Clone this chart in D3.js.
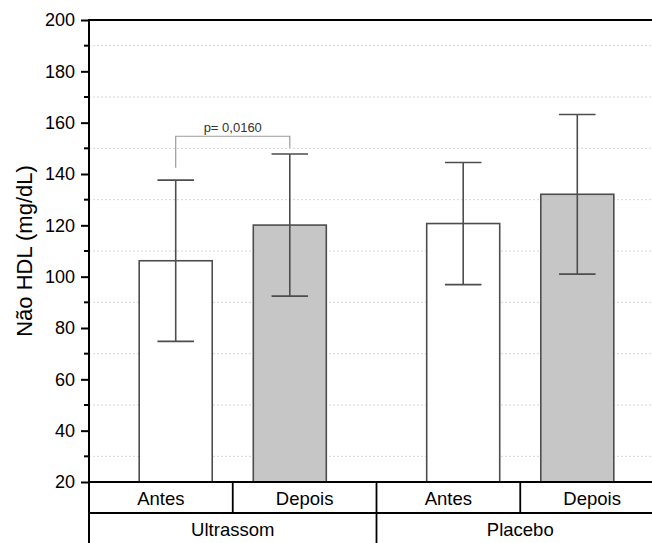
<!DOCTYPE html>
<html>
<head>
<meta charset="utf-8">
<script src="https://cdn.jsdelivr.net/npm/d3@7/dist/d3.min.js"></script>
<style>
  body { margin: 0; background: #fff; }
  text { font-family: "Liberation Sans", Arial, sans-serif; }
</style>
</head>
<body>
<svg id="chart" width="652" height="543"></svg>
<script>
// data
const groups = ["Ultrassom", "Placebo"];
const moments = ["Antes", "Depois"];
const means = [106.2, 120.1, 120.7, 132.1];   // Ultrassom Antes, Ultrassom Depois, Placebo Antes, Placebo Depois
const sds   = [31.4, 27.7, 23.8, 31.1];
const yTicks = [20, 40, 60, 80, 100, 120, 140, 160, 180, 200];
const yMinor = [30, 50, 70, 90, 110, 130, 150, 170, 190];
const bracketLabel = "p= 0,0160";
const bracketTop = 154.7;
const bracketLegs = [142.4, 150.2];

let bars = means.map(function(m, i) {
  return { group: groups[Math.floor(i / 2)], moment: moments[i % 2], mean: m, sd: sds[i] };
});

let svg = d3.select("#chart");
let margin = { top: 20, left: 89, bottom: 61 };
let plotRight = 664;
let plotBottom = 543 - margin.bottom;

let y = d3.scaleLinear().domain([20, 200]).range([plotBottom, margin.top]);

let xGroup = d3.scaleBand().domain(groups).range([margin.left, plotRight]);
let xInner = d3.scaleBand().domain(moments).range([0, xGroup.bandwidth()])
  .paddingInner(0.36).paddingOuter(0.44);
// table cells: each group split in half
let xCell = d3.scaleBand().domain(moments).range([0, xGroup.bandwidth()]);

// gridlines at the minor ticks
svg.append("g").selectAll("line")
  .data(yMinor).enter().append("line")
  .attr("x1", margin.left).attr("x2", plotRight)
  .attr("y1", d => y(d)).attr("y2", d => y(d))
  .attr("stroke", "#d6d6d6").attr("stroke-width", 1)
  .attr("stroke-dasharray", "2,2");

// bars
let barG = svg.append("g");
barG.selectAll("rect")
  .data(bars).enter().append("rect")
  .attr("x", d => xGroup(d.group) + xInner(d.moment))
  .attr("y", d => y(d.mean))
  .attr("width", xInner.bandwidth())
  .attr("height", d => plotBottom - y(d.mean))
  .attr("fill", d => d.moment === "Antes" ? "#ffffff" : "#c6c6c6")
  .attr("stroke", "#4d4d4d").attr("stroke-width", 1.6);

// error bars
let cx = d => xGroup(d.group) + xInner(d.moment) + xInner.bandwidth() / 2;
let capW = xInner.bandwidth() / 2;
let err = svg.append("g").attr("stroke", "#4d4d4d").attr("stroke-width", 1.6);
err.selectAll(".stem").data(bars).enter().append("line")
  .attr("x1", cx).attr("x2", cx)
  .attr("y1", d => y(d.mean - d.sd)).attr("y2", d => y(d.mean + d.sd));
err.selectAll(".capTop").data(bars).enter().append("line")
  .attr("x1", d => cx(d) - capW / 2).attr("x2", d => cx(d) + capW / 2)
  .attr("y1", d => y(d.mean + d.sd)).attr("y2", d => y(d.mean + d.sd));
err.selectAll(".capBot").data(bars).enter().append("line")
  .attr("x1", d => cx(d) - capW / 2).attr("x2", d => cx(d) + capW / 2)
  .attr("y1", d => y(d.mean - d.sd)).attr("y2", d => y(d.mean - d.sd));

// significance bracket
let bx1 = cx(bars[0]), bx2 = cx(bars[1]);
svg.append("path")
  .attr("d", "M" + bx1 + "," + y(bracketLegs[0]) + "V" + y(bracketTop) + "H" + bx2 + "V" + y(bracketLegs[1]))
  .attr("fill", "none").attr("stroke", "#9a9a9a").attr("stroke-width", 1.2);
svg.append("text")
  .attr("x", (bx1 + bx2) / 2).attr("y", y(bracketTop) - 4)
  .attr("text-anchor", "middle").attr("font-size", 13).attr("fill", "#333")
  .text(bracketLabel);

// y axis
let yAxis = svg.append("g").attr("transform", "translate(" + margin.left + ",0)")
  .call(d3.axisLeft(y).tickValues(yTicks).tickSize(8).tickPadding(6));
yAxis.select(".domain").remove();
yAxis.selectAll(".tick line").attr("stroke", "#000").attr("stroke-width", 2);
yAxis.selectAll(".tick text").attr("font-size", 18).attr("fill", "#000")
  .attr("font-family", "Liberation Sans, Arial, sans-serif");
svg.append("g").selectAll("line")
  .data(yMinor).enter().append("line")
  .attr("x1", margin.left - 5).attr("x2", margin.left)
  .attr("y1", d => y(d)).attr("y2", d => y(d))
  .attr("stroke", "#000").attr("stroke-width", 2);

// frame lines
let frame = svg.append("g").attr("stroke", "#000").attr("stroke-width", 2);
frame.append("line").attr("x1", margin.left).attr("x2", plotRight)
  .attr("y1", margin.top).attr("y2", margin.top);
frame.append("line").attr("x1", margin.left).attr("x2", margin.left)
  .attr("y1", margin.top - 1).attr("y2", 543);

// table under the plot
let rowH = 31;
let table = svg.append("g").attr("stroke", "#000").attr("stroke-width", 1.8);
table.append("line").attr("x1", margin.left).attr("x2", plotRight)
  .attr("y1", plotBottom).attr("y2", plotBottom);
table.append("line").attr("x1", margin.left).attr("x2", plotRight)
  .attr("y1", plotBottom + rowH).attr("y2", plotBottom + rowH);
groups.forEach(function(g, gi) {
  let gx = xGroup(g);
  if (gi > 0) {
    table.append("line").attr("x1", gx).attr("x2", gx)
      .attr("y1", plotBottom).attr("y2", 543);
  }
  table.append("line").attr("x1", gx + xCell("Depois")).attr("x2", gx + xCell("Depois"))
    .attr("y1", plotBottom).attr("y2", plotBottom + rowH);
  moments.forEach(function(m) {
    svg.append("text")
      .attr("x", gx + xCell(m) + xCell.bandwidth() / 2)
      .attr("y", plotBottom + 23)
      .attr("text-anchor", "middle").attr("font-size", 18.5).attr("fill", "#000")
      .text(m);
  });
  svg.append("text")
    .attr("x", gx + xGroup.bandwidth() / 2)
    .attr("y", plotBottom + rowH + 23)
    .attr("text-anchor", "middle").attr("font-size", 18.5).attr("fill", "#000")
    .text(g);
});

// y label
svg.append("text")
  .attr("transform", "translate(32," + ((margin.top + plotBottom) / 2) + ") rotate(-90)")
  .attr("text-anchor", "middle").attr("font-size", 22).attr("fill", "#000")
  .text("Não HDL (mg/dL)");
</script>
</body>
</html>
